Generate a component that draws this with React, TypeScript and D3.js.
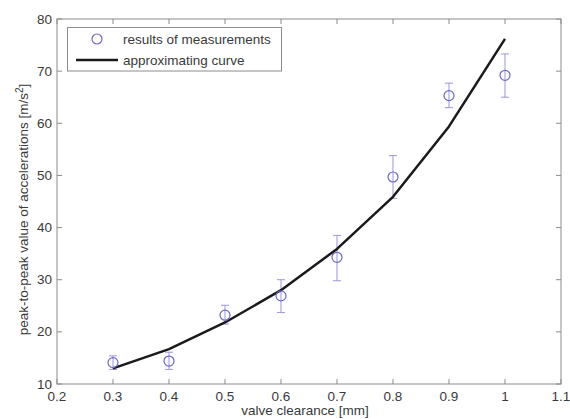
import React from "react";
import * as d3 from "d3";

// measured values
const clearance = [0.3, 0.4, 0.5, 0.6, 0.7, 0.8, 0.9, 1.0];
const measured = [14.1, 14.4, 23.2, 26.9, 34.3, 49.7, 65.3, 69.2];
const errUpper = [15.4, 16.1, 25.1, 30.0, 38.5, 53.8, 67.7, 73.3];
const errLower = [12.8, 12.8, 21.5, 23.7, 29.8, 45.6, 63.0, 65.0];
// approximating curve
const curve = [13.0, 16.7, 21.8, 28.0, 35.9, 45.9, 59.4, 76.2];

const xTicks = [0.2, 0.3, 0.4, 0.5, 0.6, 0.7, 0.8, 0.9, 1.0, 1.1];
const yTicks = [10, 20, 30, 40, 50, 60, 70, 80];

const W = 570;
const H = 419;
const margin = { top: 19, right: 9, bottom: 35, left: 57 };
const FONT = "'Liberation Sans', Arial, Helvetica, sans-serif";
const axisColor = "#8c8c8c";
const textColor = "#3a3a3a";
const markColor = "#6c68c4";
const errColor = "#9a97d6";

const App = () => {
  // -- SCALES --
  const x = d3
    .scaleLinear()
    .domain([0.2, 1.1])
    .range([margin.left, W - margin.right]);
  const y = d3
    .scaleLinear()
    .domain([10, 80])
    .range([H - margin.bottom, margin.top]);

  const line = d3
    .line<number>()
    .x((_, i) => x(clearance[i]))
    .y((d) => y(d));

  const x0 = x.range()[0];
  const x1 = x.range()[1];
  const y0 = y.range()[0];
  const y1 = y.range()[1];
  const tl = 5; // tick length, inward

  // -- RENDER --
  return (
    <svg
      width={W}
      height={H}
      style={{ position: "absolute", left: 0, top: 0, background: "#fff" }}
      fontFamily={FONT}
    >
      {/* frame */}
      <rect x={x0} y={y1} width={x1 - x0} height={y0 - y1} fill="none" stroke={axisColor} strokeWidth={1} />

      {/* x ticks */}
      {xTicks.map((t) => (
        <g key={"x" + t}>
          <line x1={x(t)} x2={x(t)} y1={y0} y2={y0 - tl} stroke={axisColor} />
          <line x1={x(t)} x2={x(t)} y1={y1} y2={y1 + tl} stroke={axisColor} />
          <text x={x(t)} y={y0 + 17} textAnchor="middle" fontSize={13.5} fill={textColor}>
            {d3.format("~g")(t)}
          </text>
        </g>
      ))}

      {/* y ticks */}
      {yTicks.map((t) => (
        <g key={"y" + t}>
          <line x1={x0} x2={x0 + tl} y1={y(t)} y2={y(t)} stroke={axisColor} />
          <line x1={x1} x2={x1 - tl} y1={y(t)} y2={y(t)} stroke={axisColor} />
          <text x={x0 - 5} y={y(t) + 4.5} textAnchor="end" fontSize={13.5} fill={textColor}>
            {t}
          </text>
        </g>
      ))}

      {/* axis labels */}
      <text x={(x0 + x1) / 2 - 4} y={H - 4} textAnchor="middle" fontSize={13.5} fill={textColor}>
        valve clearance [mm]
      </text>
      <text
        transform={`translate(28, ${(y0 + y1) / 2 + 8}) rotate(-90)`}
        textAnchor="middle"
        fontSize={13.5}
        fill={textColor}
      >
        peak-to-peak value of accelerations [m/s
        <tspan dy={-5} fontSize={10}>2</tspan>
        <tspan dy={5}>]</tspan>
      </text>

      {/* error bars */}
      {clearance.map((c, i) => (
        <g key={"e" + i} stroke={errColor} strokeWidth={1}>
          <line x1={x(c)} x2={x(c)} y1={y(errUpper[i])} y2={y(errLower[i])} />
          <line x1={x(c) - 4} x2={x(c) + 4} y1={y(errUpper[i])} y2={y(errUpper[i])} />
          <line x1={x(c) - 4} x2={x(c) + 4} y1={y(errLower[i])} y2={y(errLower[i])} />
        </g>
      ))}

      {/* approximating curve */}
      <path d={line(curve) || ""} fill="none" stroke="#1a1a1a" strokeWidth={2.5} strokeLinejoin="round" />

      {/* measurements */}
      {clearance.map((c, i) => (
        <circle key={"m" + i} cx={x(c)} cy={y(measured[i])} r={5} fill="none" stroke={markColor} strokeWidth={1.2} />
      ))}

      {/* legend */}
      <g>
        <rect x={67.5} y={27.5} width={214} height={43.5} fill="#fff" stroke={axisColor} strokeWidth={1} />
        <circle cx={97} cy={39} r={5} fill="none" stroke={markColor} strokeWidth={1.2} />
        <text x={123} y={44} fontSize={13.5} fill={textColor}>results of measurements</text>
        <line x1={76} x2={118} y1={60} y2={60} stroke="#1a1a1a" strokeWidth={2.5} />
        <text x={123} y={64.5} fontSize={13.5} fill={textColor}>approximating curve</text>
      </g>
    </svg>
  );
};

export default App;
